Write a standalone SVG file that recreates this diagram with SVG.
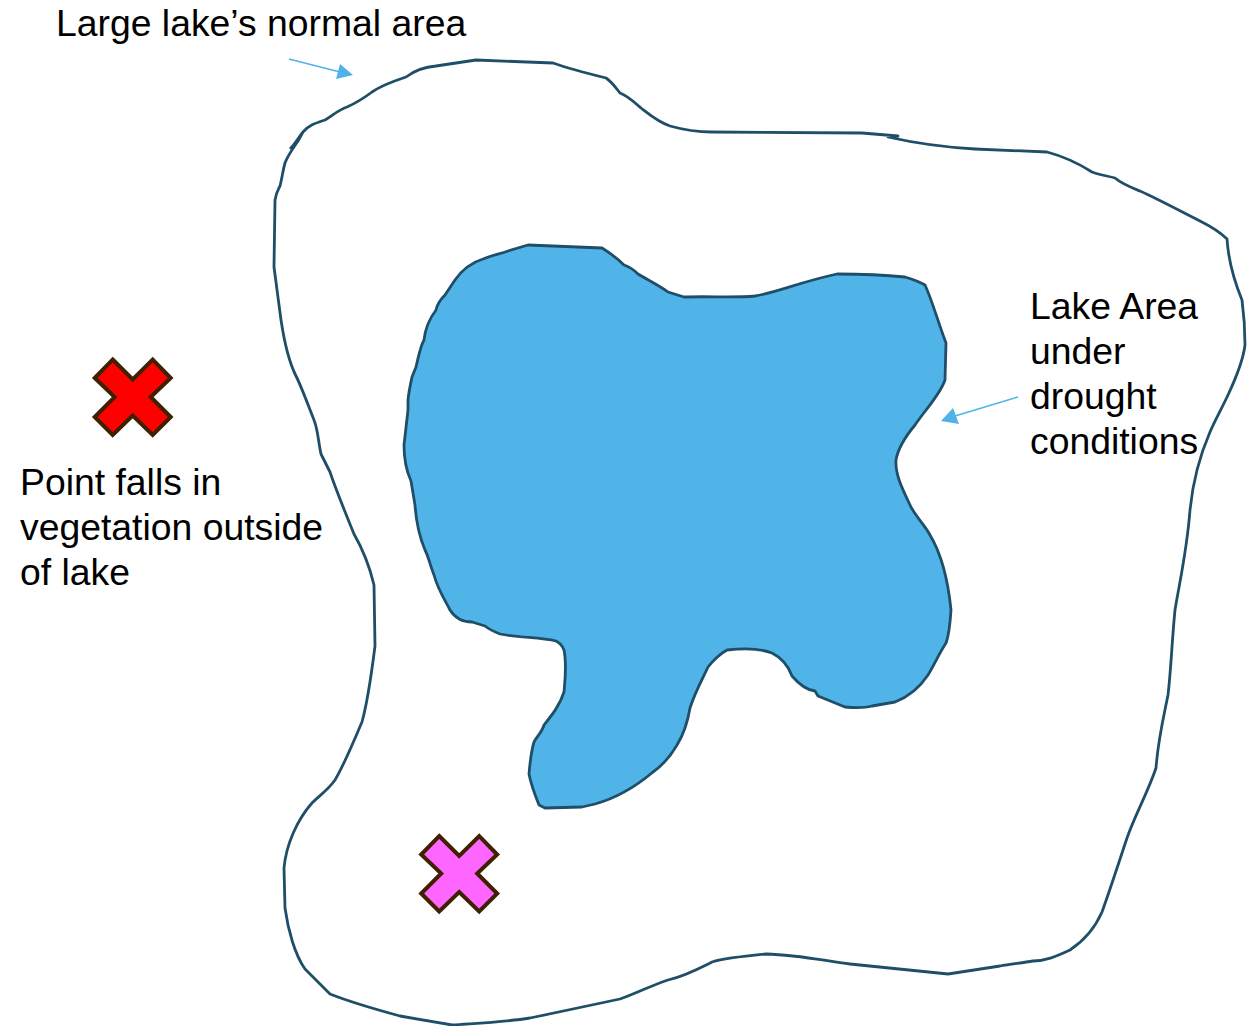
<svg xmlns="http://www.w3.org/2000/svg" width="1250" height="1026" viewBox="0 0 1250 1026">
<style>
text{font-family:"Liberation Sans",Arial,sans-serif;font-size:37.330px;fill:#000}
.lake{stroke:#1f4e68;stroke-width:2.800;stroke-linejoin:round}
.x{stroke:#3f2000;stroke-width:4;stroke-linejoin:miter}
.ptr{stroke:#4fb3e8;stroke-width:1.500;fill:none}
.head{fill:#4fb3e8}
</style>
<defs><polygon id="cross" points="-20,-37.500 0,-17.500 20,-37.500 38,-19 18,0 38,20 20,38 0,18.500 -20,38 -38,20 -18,0 -38,-19"/></defs>
<g id="normal-lake"><path class="lake" fill="#fff" d="M290,149 C296,143 298,138 303,132 C309,125 316,123 325,120 C332,116 338,110 347,107 C356,103 364,98 372,92 C382,85 394,81 406,77 C414,71 424,67 436,66 L476,60 L553,63 C570,69 590,74 606,78 C612,82 616,88 620,93 C628,96 634,102 641,108 C650,115 658,122 670,126 C684,130 696,132 712,132 L862,133 L898,136 L888,137 C910,142 940,147 975,149 L1047,152 C1062,156 1078,163 1092,172 C1100,175 1108,176 1115,178 C1122,184 1130,187 1140,191 C1160,200 1180,211 1200,221 C1210,226 1220,232 1227,239 C1228,255 1233,278 1242,300 C1244,315 1245,335 1245,345 C1243,362 1235,380 1228,395 C1222,408 1215,420 1210,432 C1200,455 1193,480 1190,510 C1187,550 1180,580 1175,610 C1172,640 1171,670 1168,695 C1163,720 1158,740 1156,768 C1148,792 1135,815 1127,838 C1118,865 1110,890 1102,912 C1095,928 1085,940 1070,950 C1055,957 1045,961 1033,961 C1022,963 1010,964 1000,966 L948,974 L850,964 C825,961 800,955 766,954 C745,956 725,958 712,962 C700,968 685,976 668,980 C650,986 635,994 620,999 L530,1018 C505,1022 480,1023 452,1025 L400,1016 C378,1010 350,1002 330,994 L305,969 C295,955 288,930 285,908 L284,868 C286,845 297,820 312,803 C320,795 328,790 335,780 C345,763 355,738 362,722 C368,700 372,670 375,646 L374,585 C370,568 362,548 354,534 C345,512 335,487 330,472 L321,454 C318,440 318,430 314,420 C308,405 302,388 296,376 C288,360 284,340 281,320 L274,267 L275,200 C276,193 278,190 280,186 C282,178 283,170 285,163 C288,155 294,147 298,141 L303,132"/></g>
<g id="drought-lake"><path class="lake" fill="#51b4e8" d="M528,245 L602,248 C610,253 618,259 624,265 C630,267 634,270 638,274 C648,280 660,286 668,292 L684,297 C710,296 735,298 755,296 C775,293 800,282 837,274 C860,274 885,275 905,277 C915,280 920,282 925,285 C932,300 938,322 946,343 L945,380 C940,395 925,410 915,425 C905,437 898,448 896,460 C895,475 903,490 910,505 C915,516 925,525 930,535 C942,555 948,580 951,610 C950,625 949,635 946,643 C940,652 934,665 928,675 C920,687 908,697 895,702 L872,706 C865,708 855,708 845,707 L818,696 L815,691 C805,690 798,683 792,676 C788,665 782,658 772,653 C762,649 745,648 727,650 C718,655 712,662 708,667 C702,680 695,692 690,708 C688,720 685,732 677,745 C670,757 663,765 653,772 C640,783 620,797 595,804 L582,807 L545,808 L539,805 C535,795 531,785 529,774 C530,762 531,752 534,742 C538,735 542,732 544,725 C552,715 560,705 564,692 C565,680 567,665 564,650 C562,645 560,643 556,641 C540,637 520,638 500,634 C495,632 490,630 485,626 L472,622 C462,622 455,618 450,610 C445,600 438,590 434,575 C430,565 429,558 425,550 C420,538 416,520 415,505 L411,481 C406,470 404,455 404,445 L408,410 L408,400 C409,390 411,382 412,377 L416,367 C418,358 421,345 424,340 C425,330 430,318 436,310 C437,305 440,300 445,295 L455,280 C462,270 470,263 483,259 C492,255 500,254 508,251 Z"/></g>
<g id="connectors">
<path class="ptr" d="M289,59 L340,72"/><polygon class="head" points="353,75 336,79 340,64"/>
<path class="ptr" d="M1018,397 L955,416"/><polygon class="head" points="941,421 953,408 959,424"/>
</g>
<g id="red-point"><use href="#cross" class="x" fill="#ff0000" x="132.700" y="397"/></g>
<g id="magenta-point"><use href="#cross" class="x" fill="#ff66ff" x="459.200" y="873.500"/></g>
<g id="label-normal"><text x="56" y="36">Large lake’s normal area</text></g>
<g id="label-drought"><text x="1030" y="319">Lake Area</text><text x="1030" y="364">under</text><text x="1030" y="409">drought</text><text x="1030" y="454">conditions</text></g>
<g id="label-point"><text x="20" y="495">Point falls in</text><text x="20" y="540">vegetation outside</text><text x="20" y="585">of lake</text></g>
</svg>
